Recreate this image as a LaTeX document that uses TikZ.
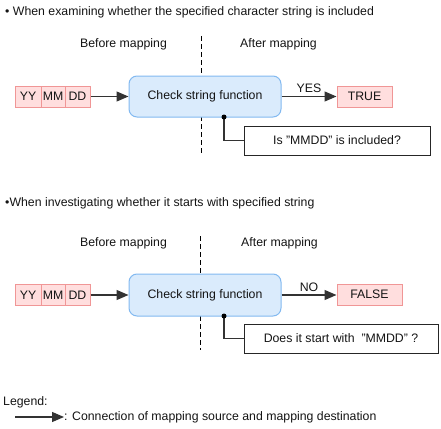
\documentclass[tikz,border=0pt]{standalone}
\usepackage{fontspec}
\setmainfont{Liberation Sans}
\usetikzlibrary{arrows.meta}
\definecolor{pinkfill}{RGB}{255,222,222}
\definecolor{pinkline}{RGB}{240,150,150}
\definecolor{bluefill}{RGB}{218,235,252}
\definecolor{blueline}{RGB}{130,185,240}
\definecolor{txt}{RGB}{20,20,20}
\begin{document}
\begin{tikzpicture}[x=1pt,y=1pt,
  every node/.style={font=\fontsize{12.3}{14}\selectfont, text=txt, inner sep=0pt},
  datebox/.style={draw=pinkline, fill=pinkfill, line width=1pt, minimum height=21pt},
  funcbox/.style={draw=blueline, fill=bluefill, line width=1pt, rounded corners=8pt, minimum width=152pt, minimum height=41pt},
  notebox/.style={draw=black!85, fill=white, line width=1pt, minimum height=29pt},
  conn/.style={draw=black!80, line width=1.2pt, -{Triangle[length=12pt,width=10pt]}},
  plain/.style={draw=black!80, line width=1.2pt},
  divider/.style={draw=black, line width=1pt, dash pattern=on 5pt off 3pt},
  dotmark/.style={circle, fill=black, minimum size=5pt}
]
\useasboundingbox (0,0) rectangle (441,-428);

% ---- section 1 ----
\node[anchor=west] (t1) at (5,-12) {• When examining whether the specified character string is included};
\node (bm1) at (123.5,-44) {Before mapping};
\node (am1) at (278.5,-44) {After mapping};
\coordinate (d1a) at (201,-36);
\coordinate (d1b) at (201,-155);
\draw[divider] (d1a) -- (d1b);

\node[datebox, minimum width=26pt] (yy1) at (28,-96.5) {YY};
\node[datebox, minimum width=24pt] (mm1) at (53,-96.5) {MM};
\node[datebox, minimum width=25pt] (dd1) at (77.5,-96.5) {DD};
\node[funcbox] (cf1) at (205,-96.5) {Check string function};
\node[datebox, minimum width=55pt] (tr1) at (364.5,-96.5) {TRUE};
\node[notebox, minimum width=186pt] (nb1) at (337,-140.5) {Is "MMDD" is included?};
\draw[conn] (dd1.east) -- (cf1.west);
\draw[conn] (cf1.east) -- node[above=3pt] (yes1) {YES} (tr1.west);
\coordinate (p1) at (224,-117);
\draw[plain] (p1) |- (nb1.west);
\node[dotmark] (dot1) at (p1) {};

% ---- section 2 ----
\node[anchor=west] (t2) at (5,-203) {•When investigating whether it starts with specified string};
\node (bm2) at (123.5,-243) {Before mapping};
\node (am2) at (279.5,-243) {After mapping};
\coordinate (d2a) at (200,-236);
\coordinate (d2b) at (200,-350);
\draw[divider] (d2a) -- (d2b);

\node[datebox, minimum width=26pt] (yy2) at (28,-295) {YY};
\node[datebox, minimum width=24pt] (mm2) at (53,-295) {MM};
\node[datebox, minimum width=25pt] (dd2) at (77.5,-295) {DD};
\node[funcbox, minimum height=42pt] (cf2) at (205,-295) {Check string function};
\node[datebox, minimum width=65pt] (fa2) at (369.5,-294.5) {FALSE};
\node[notebox, minimum width=194pt] (nb2) at (341,-338.5) {Does it start with \ "MMDD" ?};
\draw[conn] (dd2.east) -- (cf2.west);
\draw[conn] (cf2.east) -- node[above=3pt] (no2) {NO} (cf2.east -| fa2.west);
\coordinate (p2) at (224,-316);
\draw[plain] (p2) |- (nb2.west);
\node[dotmark] (dot2) at (p2) {};

% ---- legend ----
\node[anchor=west] (lg) at (3,-402) {Legend:};
\coordinate (la) at (15,-417);
\node[anchor=west] (lt) at (64,-417) {: Connection of mapping source and mapping destination};
\draw[conn] (la) -- (lt.west);
\end{tikzpicture}
\end{document}
